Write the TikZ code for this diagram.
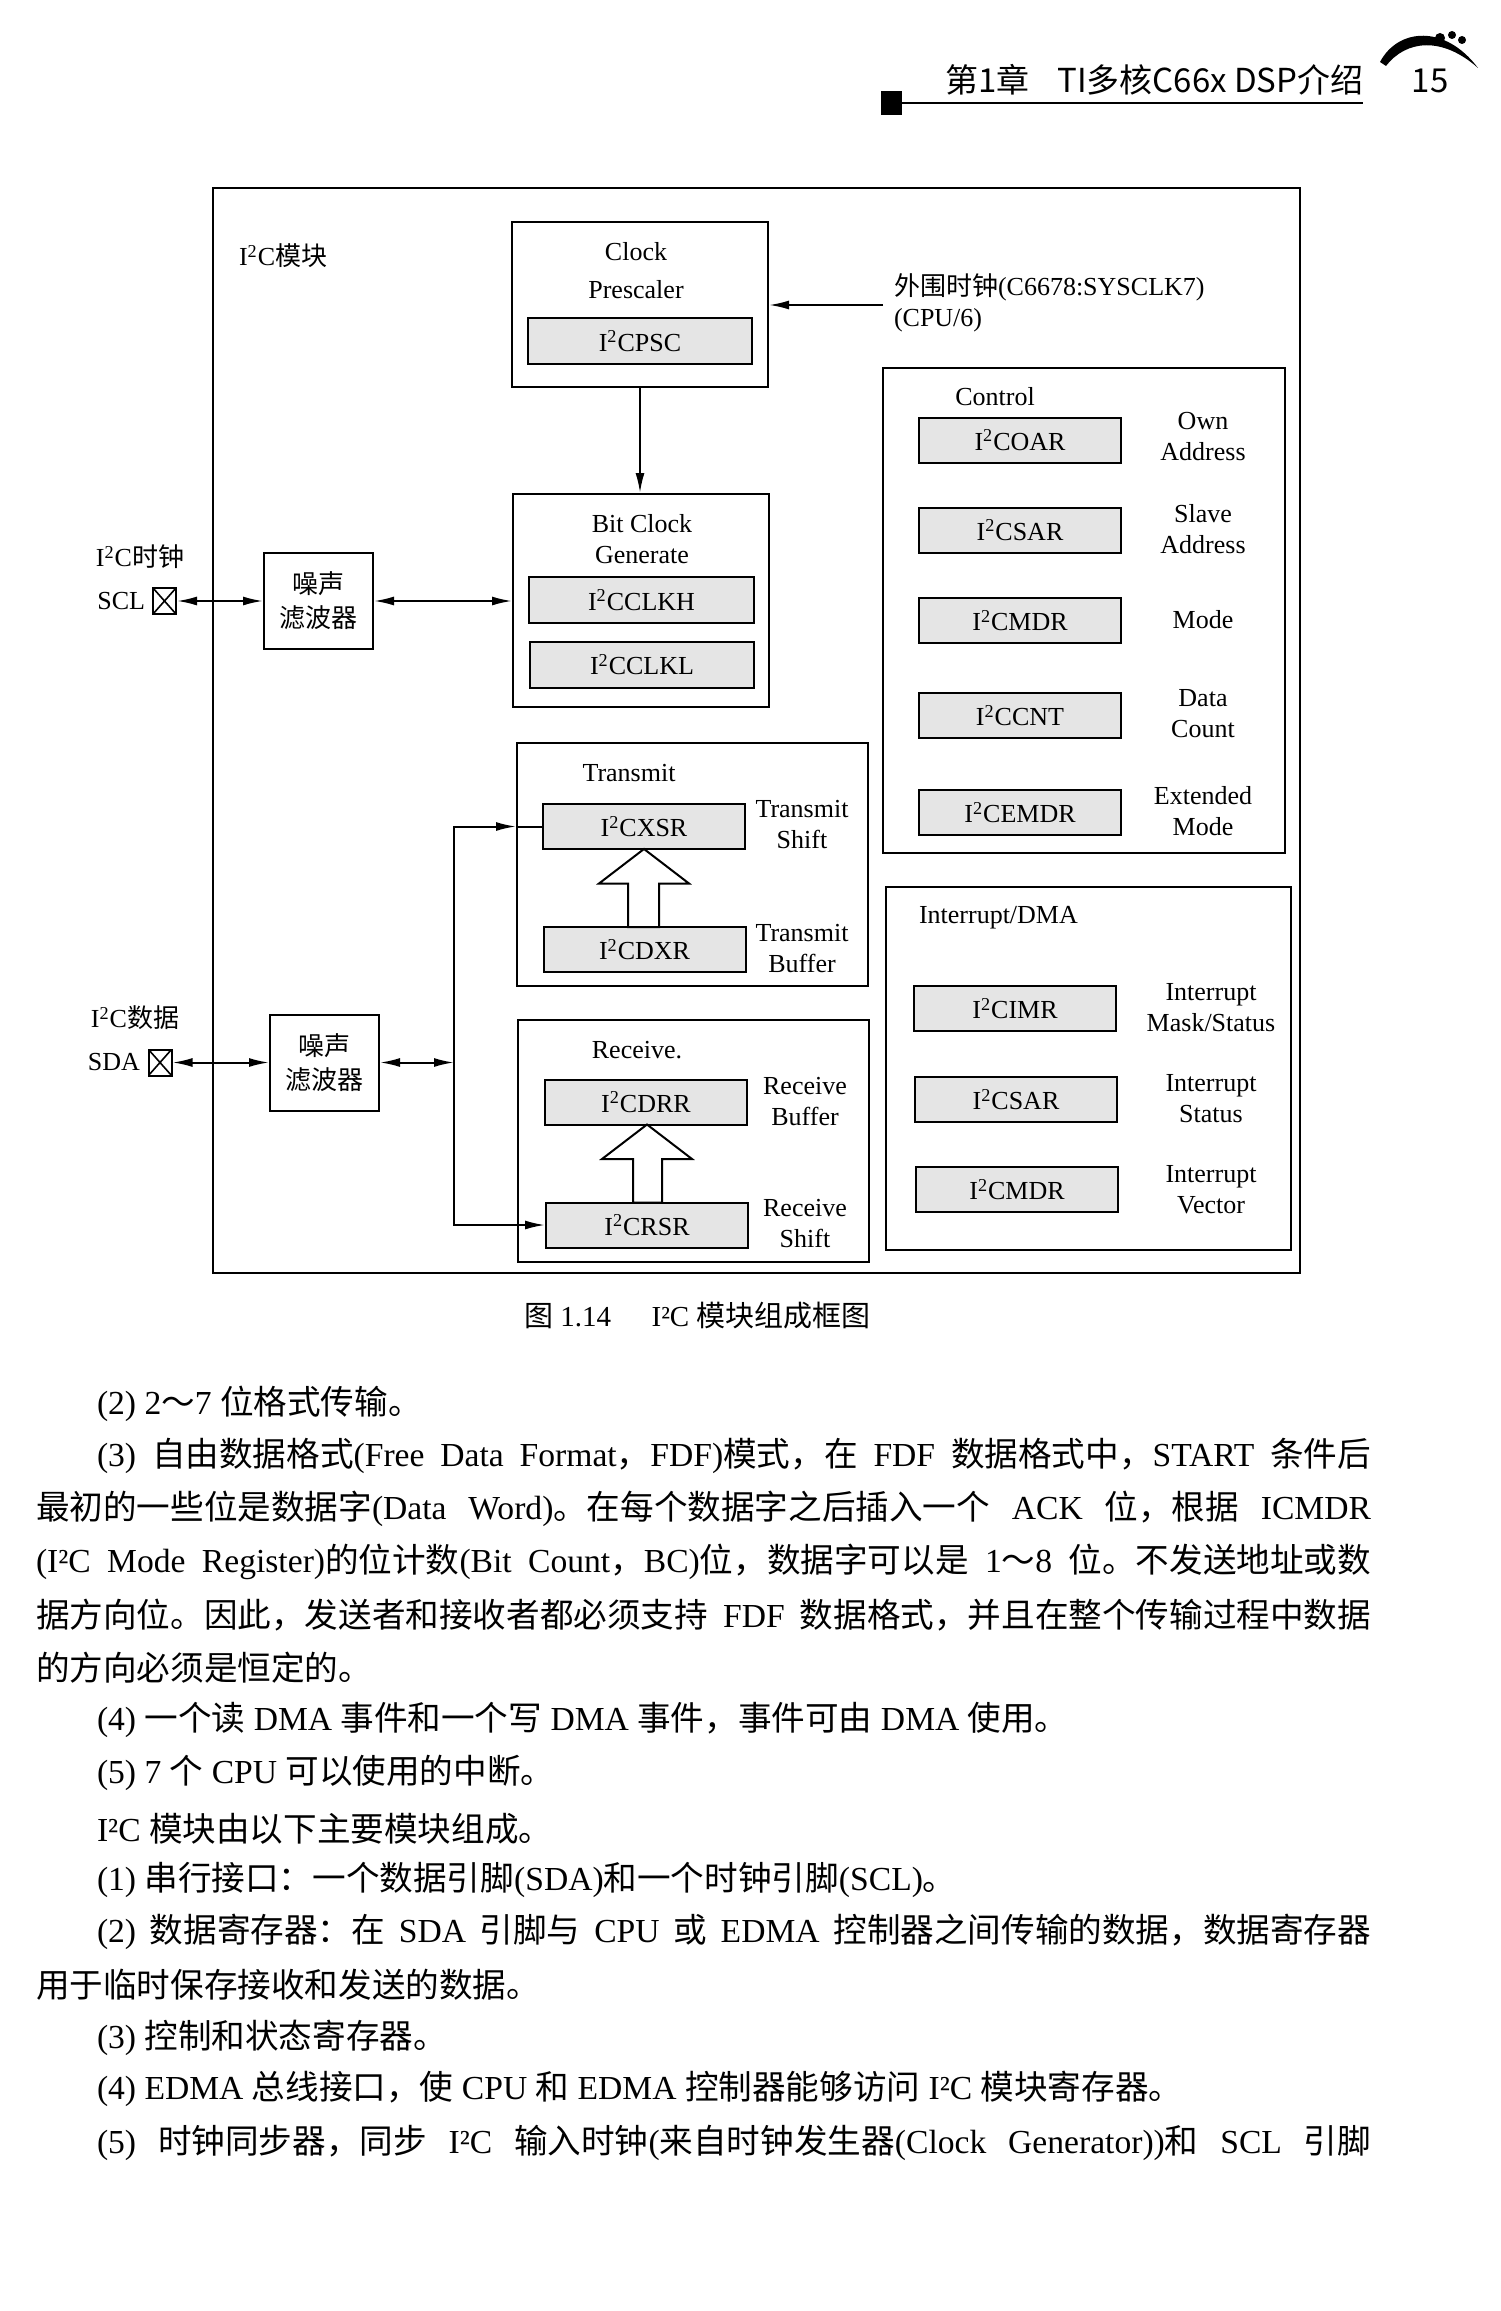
\documentclass[tikz,border=0pt]{standalone}
\usepackage{fontspec}
\setmainfont{Liberation Serif}
\newfontfamily\cjk{Noto Sans CJK SC}
\usetikzlibrary{arrows.meta}

% Chinese characters go to the CJK font
\XeTeXinterchartokenstate=1
\chardef\hanzi=10
\count255="3000 \loop\ifnum\count255<"3040 \XeTeXcharclass\count255=\hanzi \advance\count255 by 1 \repeat
\count255="4E00 \loop\ifnum\count255<"A000 \XeTeXcharclass\count255=\hanzi \advance\count255 by 1 \repeat
\count255="FF00 \loop\ifnum\count255<"FFF0 \XeTeXcharclass\count255=\hanzi \advance\count255 by 1 \repeat
\XeTeXinterchartoks 0 \hanzi = {\begingroup\cjk}
\XeTeXinterchartoks 4095 \hanzi = {\begingroup\cjk}
\XeTeXinterchartoks \hanzi 0 = {\endgroup}
\XeTeXinterchartoks \hanzi 4095 = {\endgroup}

\newcommand\diagfont{\fontsize{13}{15.5}\selectfont}
\newcommand\bodyfont{\fontsize{16.8}{20}\selectfont}
\newcommand\capfont{\fontsize{14.5}{17}\selectfont}
\newcommand\headfont{\cjk\fontsize{16.5}{19}\selectfont}
\newcommand\iic{I\textsuperscript{2}C}
% full text lines, from the indent or from the margin
\newcommand\fullind[1]{\makebox[637pt][s]{#1}}
\newcommand\fullmar[1]{\makebox[667.5pt][s]{#1}}

\tikzset{every picture/.style={line width=1pt}}
\tikzset{
  blk/.style={draw, inner sep=0pt},
  reg/.style={draw, fill=black!10, inner sep=0pt, minimum width=101pt, minimum height=22.5pt, font=\diagfont},
  lbl/.style={inner sep=0pt, align=center, font=\diagfont},
  flt/.style={draw, inner sep=0pt, align=center, minimum width=54.5pt, minimum height=48pt, font=\diagfont},
  pin/.style={draw, inner sep=0pt, minimum width=11.5pt, minimum height=13pt,
    path picture={\draw[line width=0.8pt] (path picture bounding box.north west) -- (path picture bounding box.south east)
      (path picture bounding box.south west) -- (path picture bounding box.north east);}},
  arr/.style={-{Latex[length=10pt,width=4.5pt]}},
  barr/.style={{Latex[length=10pt,width=4.5pt]}-{Latex[length=10pt,width=4.5pt]}},
  hollow/.style={draw, fill=white, line join=miter},
  body/.style={anchor=west, inner sep=0pt, font=\bodyfont},
}

\begin{document}
\begin{tikzpicture}[x=0.5pt,y=0.5pt,yscale=-1,xscale=1]
\useasboundingbox (0,0) rectangle (1500,2311);

%Page head
\fill (881,91) rectangle (902,115);
\draw[line width=0.8pt] (902,103) -- (1363,103);
\node[anchor=west, inner sep=0pt, font=\headfont] (head) at (944,80) {第1章\hspace{14pt}TI多核C66x DSP介绍};
\node[inner sep=0pt, font=\headfont] (pageno) at (1430,81) {15};
\fill (1380,62) .. controls (1398,28) and (1445,24) .. (1478,68) .. controls (1442,36) and (1406,40) .. (1386,66) -- cycle;
\fill (1440,38) circle (5) (1452,35) circle (4) (1462,40) circle (4);

%Shape: Rectangle (module frame)
\draw (213,188) rectangle (1300,1273);
% Text Node
\node[lbl, anchor=west] (modlbl) at (238,256) {\iic{}模块};

%Clock prescaler
\node[blk, minimum width=128pt, minimum height=82.5pt] (presc) at (640,304.5) {};
\node[lbl] (presct) at (636,252) {Clock};
\node[lbl] (prescb) at (636,290) {Prescaler};
\node[reg, minimum width=112pt, minimum height=23pt] (psc) at (640,341) {\iic PSC};

%Peripheral clock in
\coordinate (extin) at (883,305);
\draw[arr] (extin) -- (extin -| presc.east);
% Text Node
\node[lbl, anchor=west, align=left] (extlbl) at (893,303) {外围时钟(C6678:SYSCLK7)\\(CPU/6)};

%Bit clock generate
\node[blk, minimum width=128pt, minimum height=106.5pt] (bitclk) at (641,600.5) {};
\node[lbl] (bitclkt) at (642,539.5) {Bit Clock\\Generate};
\node[reg, minimum width=112.5pt, minimum height=23pt] (clkh) at (641.5,600) {\iic CLKH};
\node[reg, minimum width=112pt, minimum height=23pt] (clkl) at (642,664.5) {\iic CLKL};
%Straight Lines
\draw[arr] (presc.south) -- (presc.south |- bitclk.north);

%SCL pin and noise filter
\node[lbl] (scllbl) at (140,557) {\iic{}时钟};
\node[pin] (sclpin) at (164.5,601) {};
\node[lbl, anchor=east] (scltxt) at (146,601) {SCL};
\node[flt] (sclflt) at (318.5,601) {噪声\\[1.5pt]滤波器};
%Straight Lines
\draw[barr] (sclpin) -- (sclflt);
\draw[barr] (sclflt.east) -- (sclflt.east -| bitclk.west);

%SDA pin and noise filter
\node[lbl] (sdalbl) at (135,1018) {\iic{}数据};
\node[pin] (sdapin) at (160,1062.5) {};
\node[lbl, anchor=east] (sdatxt) at (141,1062.5) {SDA};
\node[flt] (sdaflt) at (324.5,1062.5) {噪声\\[1.5pt]滤波器};
\coordinate (jn) at (454,1062.5);
%Straight Lines
\draw[barr] (sdapin) -- (sdaflt);
\draw[barr] (sdaflt) -- (jn);

%Transmit
\node[blk, minimum width=175.5pt, minimum height=121.5pt] (txbox) at (692.5,864.5) {};
\node[lbl] (txlbl) at (629,773) {Transmit};
\node[reg] (xsr) at (644,826.5) {\iic XSR};
\node[reg] (dxr) at (644.5,949.5) {\iic DXR};
\node[lbl] (xsrlbl) at (802,825) {Transmit\\Shift};
\node[lbl] (dxrlbl) at (802,949) {Transmit\\Buffer};
%Shape: Block Arrow
\draw[hollow] (628,927) -- (628,883.5) -- (599,883.5) -- (644,849) -- (689,883.5) -- (659,883.5) -- (659,927) -- cycle;

%Receive
\node[blk, minimum width=175.5pt, minimum height=121pt] (rxbox) at (693.5,1141) {};
\node[lbl] (rxlbl) at (637,1050) {Receive.};
\node[reg] (drr) at (646,1102) {\iic DRR};
\node[reg] (rsr) at (647,1225) {\iic RSR};
\node[lbl] (drrlbl) at (805,1102) {Receive\\Buffer};
\node[lbl] (rsrlbl) at (805,1224) {Receive\\Shift};
%Shape: Block Arrow
\draw[hollow] (633,1202.5) -- (633,1159) -- (602,1159) -- (647,1124.5) -- (692,1159) -- (662,1159) -- (662,1202.5) -- cycle;

%Data bus
\draw[arr] (jn) |- (xsr.west -| txbox.west);
\draw (xsr.west -| txbox.west) -- (xsr.west);
\draw[arr] (jn) |- (rsr.west);

%Control
\node[blk, minimum width=201pt, minimum height=242.5pt] (ctlbox) at (1084,610.5) {};
\node[lbl] (ctllbl) at (995,397) {Control};
\node[reg] (coar) at (1020,440) {\iic OAR};
\node[reg] (csar) at (1020,530) {\iic SAR};
\node[reg] (cmdr) at (1020,620.5) {\iic MDR};
\node[reg] (ccnt) at (1020,715.5) {\iic CNT};
\node[reg] (cemdr) at (1020,812.5) {\iic EMDR};
\node[lbl] (coarlbl) at (1203,437) {Own\\Address};
\node[lbl] (csarlbl) at (1203,529) {Slave\\Address};
\node[lbl] (cmdrlbl) at (1203,620) {Mode};
\node[lbl] (ccntlbl) at (1203,714) {Data\\Count};
\node[lbl] (cemdrlbl) at (1203,811) {Extended\\Mode};

%Interrupt/DMA
\node[blk, minimum width=202.5pt, minimum height=181.5pt] (intbox) at (1088.5,1068.5) {};
\node[lbl, anchor=west] (intlbl) at (918,918) {Interrupt/DMA};
\node[reg] (imr) at (1015,1008.5) {\iic IMR};
\node[reg] (isr) at (1016,1099.5) {\iic SAR};
\node[reg] (ivr) at (1017,1189.5) {\iic MDR};
\node[lbl] (imrlbl) at (1211,1008) {Interrupt\\Mask/Status};
\node[lbl] (isrlbl) at (1211,1099) {Interrupt\\Status};
\node[lbl] (ivrlbl) at (1211,1190) {Interrupt\\Vector};

% Caption
\node[anchor=west, inner sep=0pt, font=\capfont] (cap) at (523,1316) {图 1.14\hspace{1.4em}I²C 模块组成框图};

% Body text
\node[body] (b1) at (96,1404) {(2) 2～7 位格式传输。};
\node[body] (b2) at (96,1456) {\fullind{(3) 自由数据格式(Free Data Format，FDF)模式，在 FDF 数据格式中，START 条件后}};
\node[body] (b3) at (35,1509) {\fullmar{最初的一些位是数据字(Data Word)。在每个数据字之后插入一个 ACK 位，根据 ICMDR}};
\node[body] (b4) at (35,1562) {\fullmar{(I²C Mode Register)的位计数(Bit Count，BC)位，数据字可以是 1～8 位。不发送地址或数}};
\node[body] (b5) at (35,1615) {\fullmar{据方向位。因此，发送者和接收者都必须支持 FDF 数据格式，并且在整个传输过程中数据}};
\node[body] (b6) at (35,1668) {的方向必须是恒定的。};
\node[body] (b7) at (96,1720) {(4) 一个读 DMA 事件和一个写 DMA 事件，事件可由 DMA 使用。};
\node[body] (b8) at (96,1773) {(5) 7 个 CPU 可以使用的中断。};
\node[body] (b9) at (96,1829) {I²C 模块由以下主要模块组成。};
\node[body] (b10) at (96,1880) {(1) 串行接口：一个数据引脚(SDA)和一个时钟引脚(SCL)。};
\node[body] (b11) at (96,1932) {\fullind{(2) 数据寄存器：在 SDA 引脚与 CPU 或 EDMA 控制器之间传输的数据，数据寄存器}};
\node[body] (b12) at (35,1985) {用于临时保存接收和发送的数据。};
\node[body] (b13) at (96,2038) {(3) 控制和状态寄存器。};
\node[body] (b14) at (96,2089) {(4) EDMA 总线接口，使 CPU 和 EDMA 控制器能够访问 I²C 模块寄存器。};
\node[body] (b15) at (96,2143) {\fullind{(5) 时钟同步器，同步 I²C 输入时钟(来自时钟发生器(Clock Generator))和 SCL 引脚}};

\end{tikzpicture}
\end{document}
